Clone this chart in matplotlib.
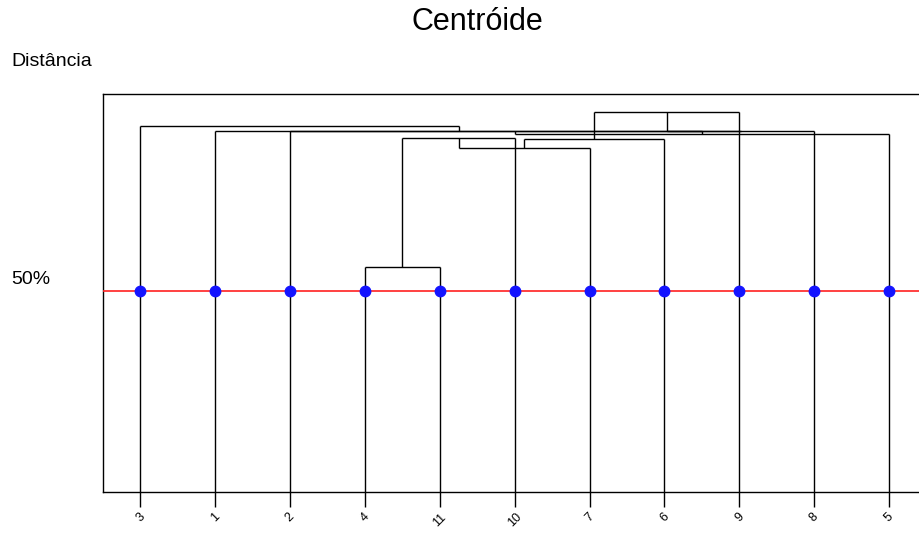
import numpy as np
import matplotlib.pyplot as plt

plt.rcParams['font.family'] = ['Liberation Sans', 'DejaVu Sans']

# hclust-style merge table: negative = leaf label, positive = earlier merge (1-based)
merge = [(-4, -11), (1, -10), (2, -7), (3, -6), (4, -9),
         (5, -8), (-2, 6), (7, -5), (-1, 8), (-3, 9)]
heights = [55.9, 87.9, 85.4, 87.7, 94.4, 89.8, 89.6, 88.9, 89.6, 91.0]
leaf_order = [3, 1, 2, 4, 11, 10, 7, 6, 9, 8, 5]
cut = 50.0

leaf_x = {lab: i for i, lab in enumerate(leaf_order)}

fig = plt.figure(figsize=(9.2, 5.33), dpi=100)
ax = fig.add_axes([103/920, 41.3/533, 823.5/920, 397.7/533])

node_x = []
node_h = []
for (a, b), h in zip(merge, heights):
    xs, hs = [], []
    for c in (a, b):
        if c < 0:
            xs.append(leaf_x[-c]); hs.append(0.0)
        else:
            xs.append(node_x[c - 1]); hs.append(node_h[c - 1])
    for x, y0 in zip(xs, hs):
        ax.plot([x, x], [y0, h], color='black', lw=1.0, solid_capstyle='butt')
    ax.plot(xs, [h, h], color='black', lw=1.0, solid_capstyle='butt')
    node_x.append(sum(xs) / 2.0)
    node_h.append(h)

ax.axhline(cut, color='#ff2020', lw=1.2, zorder=3)
ax.plot(range(len(leaf_order)), [cut] * len(leaf_order), 'o',
        color='#1414ff', ms=7.5, zorder=4)

ax.set_xlim(-0.5, len(leaf_order) - 0.5)
ax.set_ylim(0, 98.9)
ax.set_xticks(range(len(leaf_order)))
ax.set_xticklabels([str(l) for l in leaf_order], rotation=45, fontsize=9)
ax.tick_params(axis='x', length=11, width=1.0, pad=3)
ax.set_yticks([])
ax.spines['right'].set_visible(False)
for s in ax.spines.values():
    s.set_linewidth(1.0)

fig.text(477/920, 1 - 22/533, 'Centróide', ha='center', va='center', fontsize=22)
fig.text(11/920, 1 - 62/533, 'Distância', ha='left', va='center', fontsize=14)
fig.text(11/920, 1 - 280/533, '50%', ha='left', va='center', fontsize=14)

plt.savefig('out.png', dpi=100)
